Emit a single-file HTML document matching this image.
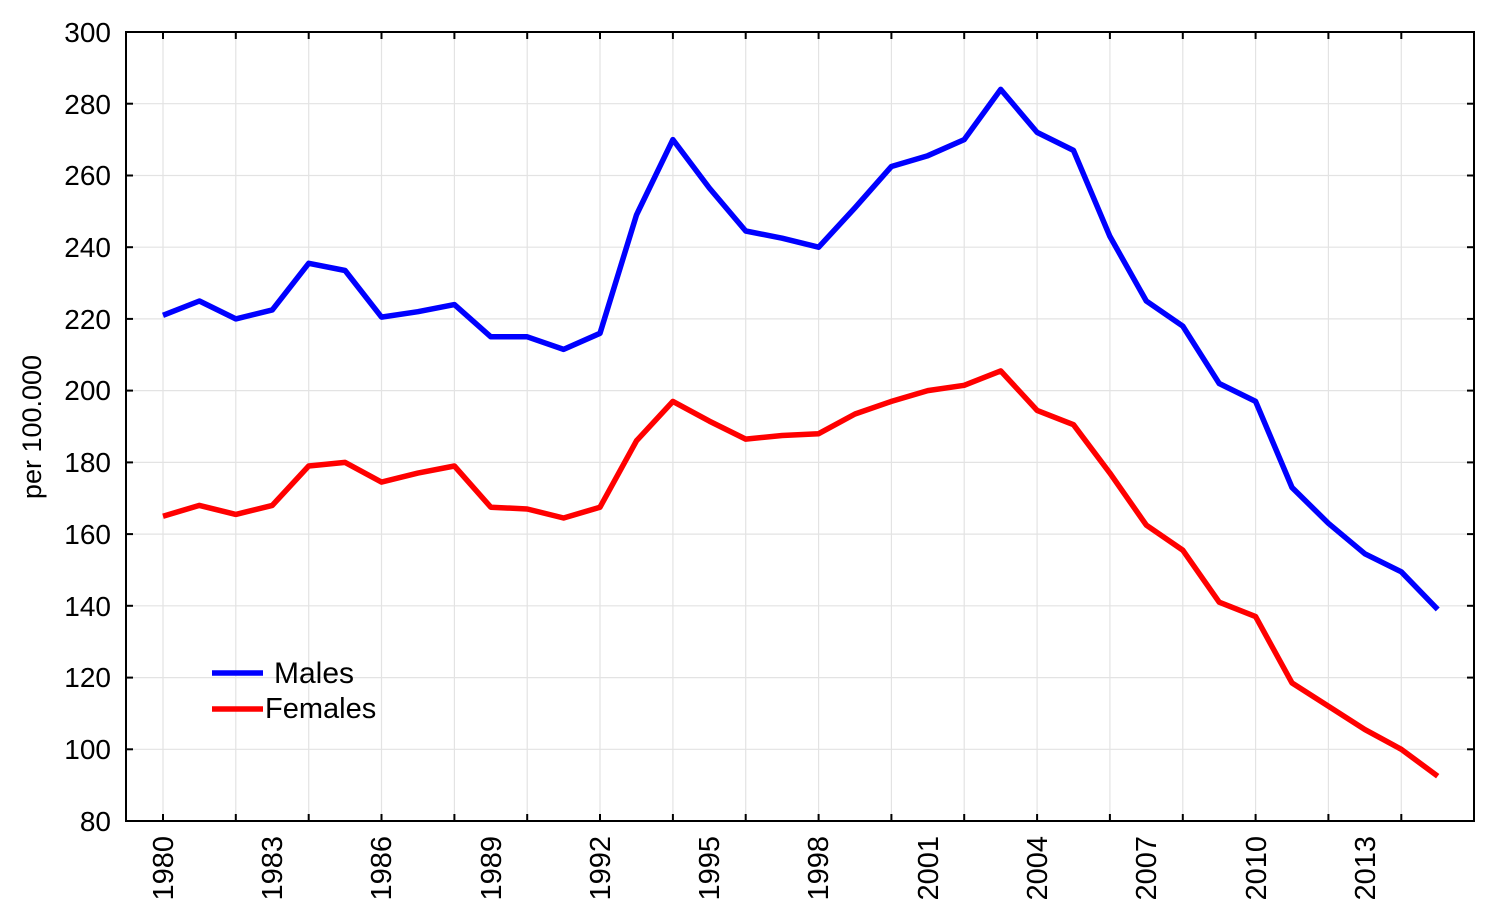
<!DOCTYPE html>
<html><head><meta charset="utf-8"><style>
html,body{margin:0;padding:0;background:#fff;}
svg text{font-family:"Liberation Sans",Arial,sans-serif;fill:#000;}
</style></head><body>
<svg id="s" width="1500" height="914" xmlns="http://www.w3.org/2000/svg">
<g id="grid"></g>
<polyline id="m" fill="none" stroke="#0000ff" stroke-width="5.5" stroke-linejoin="round"/>
<polyline id="f" fill="none" stroke="#ff0000" stroke-width="5.5" stroke-linejoin="round"/>
<rect x="126" y="32" width="1348" height="789" fill="none" stroke="#000" stroke-width="2"/>
<g id="ticks"></g>
<g font-size="28" text-anchor="end">
<text x="111" y="42">300</text><text x="111" y="114">280</text><text x="111" y="185">260</text>
<text x="111" y="257">240</text><text x="111" y="329">220</text><text x="111" y="400">200</text>
<text x="111" y="472">180</text><text x="111" y="544">160</text><text x="111" y="616">140</text>
<text x="111" y="687">120</text><text x="111" y="759">100</text><text x="111" y="831">80</text>
</g>
<g font-size="29" text-anchor="end">
<text transform="translate(173,836) rotate(-90)">1980</text>
<text transform="translate(282,836) rotate(-90)">1983</text>
<text transform="translate(391,836) rotate(-90)">1986</text>
<text transform="translate(501,836) rotate(-90)">1989</text>
<text transform="translate(610,836) rotate(-90)">1992</text>
<text transform="translate(719,836) rotate(-90)">1995</text>
<text transform="translate(828,836) rotate(-90)">1998</text>
<text transform="translate(938,836) rotate(-90)">2001</text>
<text transform="translate(1047,836) rotate(-90)">2004</text>
<text transform="translate(1156,836) rotate(-90)">2007</text>
<text transform="translate(1266,836) rotate(-90)">2010</text>
<text transform="translate(1375,836) rotate(-90)">2013</text>
</g>
<text font-size="27" text-anchor="middle" transform="translate(41,427) rotate(-90)">per 100.000</text>
<line x1="212" y1="673" x2="263" y2="673" stroke="#0000ff" stroke-width="5.5"/>
<text x="274" y="683" font-size="30">Males</text>
<line x1="212" y1="709" x2="263" y2="709" stroke="#ff0000" stroke-width="5.5"/>
<text x="265" y="718" font-size="29">Females</text>
</svg>
<script>
var M=[221,225,220,222.5,235.5,233.5,220.5,222,224,215,215,211.5,216,249,270,256.5,244.5,242.5,240,251,262.5,265.5,270,284,272,267,243,225,218,202,197,173,163,154.5,149.5,139];
var F=[165,168,165.5,168,179,180,174.5,177,179,167.5,167,164.5,167.5,186,197,191.5,186.5,187.5,188,193.5,197,200,201.5,205.5,194.5,190.5,177,162.5,155.5,141,137,118.5,112,105.5,100,92.5];
function X(i){return 163+i*36.42;}function Y(v){return 32+(300-v)*3.5864;}
function pts(a){return a.map(function(v,i){return X(i).toFixed(1)+","+Y(v).toFixed(1)}).join(" ");}
document.getElementById("m").setAttribute("points",pts(M));
document.getElementById("f").setAttribute("points",pts(F));
var g="",t="";
for(var i=0;i<36;i+=2){var x=X(i).toFixed(1);g+='<line x1="'+x+'" y1="32" x2="'+x+'" y2="821" stroke="#e3e3e3" stroke-width="1.2"/>';
t+='<line x1="'+x+'" y1="814" x2="'+x+'" y2="821" stroke="#000" stroke-width="2"/><line x1="'+x+'" y1="32" x2="'+x+'" y2="39" stroke="#000" stroke-width="2"/>';}
for(var v=100;v<300;v+=20){var y=Y(v).toFixed(1);g+='<line x1="126" y1="'+y+'" x2="1474" y2="'+y+'" stroke="#e3e3e3" stroke-width="1.2"/>';
t+='<line x1="126" y1="'+y+'" x2="133" y2="'+y+'" stroke="#000" stroke-width="2"/><line x1="1467" y1="'+y+'" x2="1474" y2="'+y+'" stroke="#000" stroke-width="2"/>';}
document.getElementById("grid").innerHTML=g;document.getElementById("ticks").innerHTML=t;
</script>
</body></html>
